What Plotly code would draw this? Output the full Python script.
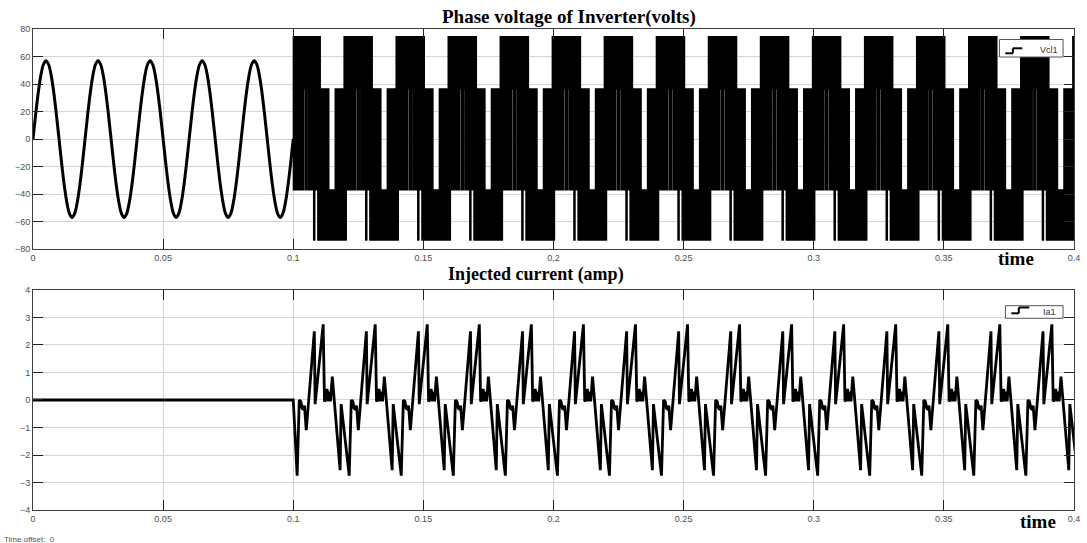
import numpy as np
import plotly.graph_objects as go
from plotly.subplots import make_subplots

# ---- axes ----
x_ticks = [0, 0.05, 0.1, 0.15, 0.2, 0.25, 0.3, 0.35, 0.4]
x_tick_text = ["0", "0.05", "0.1", "0.15", "0.2", "0.25", "0.3", "0.35", "0.4"]
v_ticks = [-80, -60, -40, -20, 0, 20, 40, 60, 80]
i_ticks = [-4, -3, -2, -1, 0, 1, 2, 3, 4]

# ---- timing (s) ----
cycle_s = 0.02
inverter_on_s = 0.1
t_end_s = 0.4

# Phase voltage before the inverter switches in: one 50 Hz cycle, sampled every 1 ms (V)
sine_cycle_v = [0, 17.6, 33.5, 46.1, 54.2, 57.0, 54.2, 46.1, 33.5, 17.6,
                0, -17.6, -33.5, -46.1, -54.2, -57.0, -54.2, -46.1, -33.5, -17.6]
sine_step_ms = 1.0

# Inverter output: switching bands inside one cycle (ms from cycle start, V)
band_start_ms = [-0.5, -3.9, 9.4, 7.8]
band_end_ms = [10.4, 13.7, 20.4, 8.3]
band_low_v = [36.5, -37.0, -73.5, -73.5]
band_high_v = [74.5, 36.5, -37.0, -37.0]
# narrow idle gaps inside the middle band (ms from cycle start)
gap_start_ms = [4.0, 5.4]
gap_end_ms = [4.5, 5.9]
switch_step_ms = 0.03

# Injected current over one cycle (ms from cycle start, A)
ia_phase_ms = [1.5, 2.3, 2.9, 3.4, 3.9, 4.3, 5.0, 8.1, 8.4, 11.5, 12.0, 12.5,
               13.0, 13.4, 13.9, 14.3, 15.0, 18.0, 18.4]
ia_cycle_a = [-2.75, 0.0, -0.05, -0.3, -0.35, -0.2, -1.1, 2.5, -0.15, 2.75, -0.05, 0.0,
              0.4, -0.05, 0.3, -0.05, 0.85, -2.55, -0.15]

n_cycles = int(round((t_end_s - inverter_on_s) / cycle_s))

# ---- sine section ----
sine_t, sine_v = [], []
n_sine = int(round(inverter_on_s / cycle_s))
for k in range(n_sine):
    for i, v in enumerate(sine_cycle_v):
        sine_t.append(k * cycle_s + i * sine_step_ms / 1000)
        sine_v.append(v)
sine_t.append(inverter_on_s)
sine_v.append(0)


# ---- switched section ----
def switching(a, b, lo, hi, step):
    ts = np.arange(a, b + step / 2, step)
    xs = np.repeat(ts, 2)
    ys = np.resize(np.array([lo, hi, hi, lo]), xs.size)
    return xs.tolist(), ys.tolist()


def split_gaps(a, b, gaps):
    pieces, cur = [], a
    for g0, g1 in gaps:
        if g1 <= cur or g0 >= b:
            continue
        if g0 > cur:
            pieces.append((cur, g0))
        cur = max(cur, g1)
    if cur < b:
        pieces.append((cur, b))
    return pieces


pwm_t, pwm_v = [], []
step_s = switch_step_ms / 1000
for k in range(n_cycles + 1):
    base = inverter_on_s + k * cycle_s
    gaps = [(base + g0 / 1000, base + g1 / 1000) for g0, g1 in zip(gap_start_ms, gap_end_ms)]
    for j in range(len(band_start_ms)):
        a = max(base + band_start_ms[j] / 1000, inverter_on_s)
        b = min(base + band_end_ms[j] / 1000, t_end_s)
        if b <= a:
            continue
        pieces = split_gaps(a, b, gaps) if j == 1 else [(a, b)]
        for p0, p1 in pieces:
            xs, ys = switching(p0, p1, band_low_v[j], band_high_v[j], step_s)
            pwm_t += xs + [None]
            pwm_v += ys + [None]

# ---- current ----
ia_t, ia_v = [0.0, inverter_on_s], [0.0, 0.0]
for k in range(n_cycles + 1):
    base = inverter_on_s + k * cycle_s
    for p, v in zip(ia_phase_ms, ia_cycle_a):
        ia_t.append(base + p / 1000)
        ia_v.append(v)

fig = make_subplots(rows=2, cols=1)
fig.add_trace(go.Scatter(x=pwm_t, y=pwm_v, mode="lines", name="Vcl1",
                         line=dict(color="black", width=1.2, simplify=False),
                         hoverinfo="skip"), row=1, col=1)
fig.add_trace(go.Scatter(x=sine_t, y=sine_v, mode="lines", name="Vcl1",
                         line=dict(color="black", width=3, shape="spline")), row=1, col=1)
fig.add_trace(go.Scatter(x=ia_t, y=ia_v, mode="lines", name="Ia1",
                         line=dict(color="black", width=2.8)), row=2, col=1)

tick_font = dict(family="Liberation Sans, Arial, sans-serif", size=9, color="#4d4d4d")
axis_common = dict(showgrid=True, gridcolor="#d4d4d4", gridwidth=1, zeroline=False,
                   showline=True, linecolor="#404040", linewidth=1, mirror="ticks",
                   ticks="inside", ticklen=10, tickcolor="#222222", tickwidth=1,
                   tickfont=tick_font)

fig.update_xaxes(range=[0, t_end_s], tickvals=x_ticks, ticktext=x_tick_text, **axis_common)
fig.update_yaxes(**axis_common)
fig.update_yaxes(range=[-80, 80], tickvals=v_ticks, row=1, col=1)
fig.update_yaxes(range=[-4, 4], tickvals=i_ticks, row=2, col=1)

top_dom = [0.5426, 1.0]
bot_dom = [0.0, 0.4574]
fig.update_layout(yaxis=dict(domain=top_dom), yaxis2=dict(domain=bot_dom))

serif = "Liberation Serif, Times New Roman, serif"
title_font = dict(family=serif, size=19, color="black")
time_font = dict(family=serif, size=19, color="black")
annotations = [
    dict(text="<b>Phase voltage of Inverter(volts)</b>", x=0.515, y=1.0249,
         xref="paper", yref="paper", showarrow=False, font=title_font,
         xanchor="center", yanchor="middle"),
    dict(text="<b>Injected current (amp)</b>", x=0.4833, y=0.4906,
         xref="paper", yref="paper", showarrow=False,
         font=dict(family=serif, size=18, color="black"),
         xanchor="center", yanchor="middle"),
    dict(text="<b>time</b>", x=0.9443, y=0.5239, xref="paper", yref="paper",
         showarrow=False, font=time_font, xanchor="center", yanchor="middle"),
    dict(text="<b>time</b>", x=0.9656, y=-0.0249, xref="paper", yref="paper",
         showarrow=False, font=time_font, xanchor="center", yanchor="middle"),
    dict(text="Time offset:  0", x=-0.0296, y=-0.0478, xref="paper", yref="paper",
         showarrow=False, font=dict(family="Liberation Sans, Arial, sans-serif", size=8, color="#555555"),
         xanchor="left", yanchor="top"),
]

shapes = []


def legend_box(xr, yr, box, step, label_xy, label):
    x0, x1, y0, y1 = box
    shapes.append(dict(type="rect", xref=xr, yref=yr, x0=x0, x1=x1, y0=y0, y1=y1,
                       fillcolor="white", line=dict(color="#555555", width=1), layer="above"))
    sx0, sxm, sx1, ylo, yhi = step
    for a, b, c, d in [(sx0, ylo, sxm, ylo), (sxm, ylo, sxm, yhi), (sxm, yhi, sx1, yhi)]:
        shapes.append(dict(type="line", xref=xr, yref=yr, x0=a, y0=b, x1=c, y1=d,
                           line=dict(color="black", width=2), layer="above"))
    annotations.append(dict(text=label, x=label_xy[0], y=label_xy[1], xref=xr, yref=yr,
                            showarrow=False, xanchor="center", yanchor="middle",
                            font=dict(family="Liberation Sans, Arial, sans-serif", size=9, color="#333333")))


legend_box("x domain", "y domain", (0.9284, 0.9895, 0.8727, 0.9523),
           (0.9341, 0.9413, 0.9503, 0.8895, 0.9123), (0.9761, 0.9045), "Vcl1")
legend_box("x2 domain", "y2 domain", (0.9341, 0.9895, 0.8714, 0.9286),
           (0.9398, 0.9470, 0.9570, 0.8940, 0.9205), (0.9761, 0.9000), "Ia1")

fig.update_layout(
    width=1087, height=543,
    margin=dict(l=33, r=7, t=29, b=33),
    paper_bgcolor="white", plot_bgcolor="white",
    showlegend=False,
    annotations=annotations,
    shapes=shapes,
)

fig.write_html("out.html")
